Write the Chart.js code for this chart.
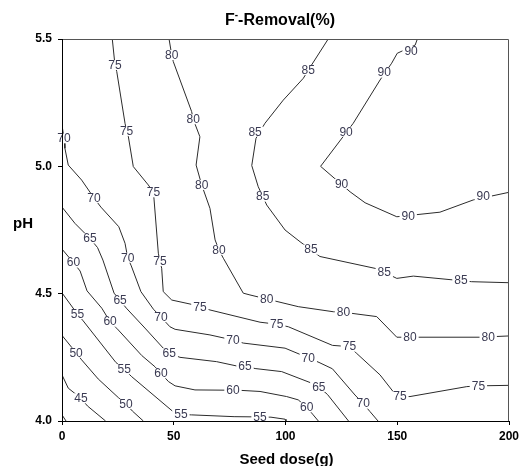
<!DOCTYPE html>
<html>
<head>
<meta charset="utf-8">
<script src="https://cdn.jsdelivr.net/npm/chart.js@4.4.0/dist/chart.umd.min.js"></script>
<style>
    html, body { margin: 0; padding: 0; background: #fff; }
    #wrap { width: 519px; height: 466px; }
</style>
</head>
<body>
<div id="wrap"><canvas id="contourChart1"></canvas></div>
<script>
// contour levels (F- removal %), each line read as [seed dose g, pH]
var levels = [40, 45, 50, 55, 60, 65, 70, 75, 80, 85, 90];
var xTicks = [0, 50, 100, 150, 200];
var yTicks = [4.0, 4.5, 5.0, 5.5];

var c40 = [[0, 4.024], [1.8, 4.0]];
var c45 = [[0, 4.181], [2.8, 4.129], [8.5, 4.089], [11.4, 4.059], [19.5, 4.0]];
var c50 = [[0, 4.336], [6.3, 4.268], [8.8, 4.24], [16.2, 4.165], [25.2, 4.092], [28.6, 4.067], [31.5, 4.039], [36.4, 4.0]];
var c55 = [[0, 4.503], [6.9, 4.42], [9.5, 4.393], [24.1, 4.23], [27.8, 4.203], [31.2, 4.174], [49.4, 4.039], [53.2, 4.025], [58, 4.024], [77, 4.017], [88.6, 4.016], [93.5, 4.015], [99.8, 4.007], [100.2, 4.0]];
var c60 = [[0, 4.675], [5.1, 4.622], [8.1, 4.589], [11.2, 4.511], [17.8, 4.443], [21.5, 4.39], [24.5, 4.364], [35.7, 4.257], [41.6, 4.213], [44.3, 4.187], [47.6, 4.155], [50.6, 4.138], [59.5, 4.122], [73.7, 4.121], [76.5, 4.122], [88.6, 4.116], [100.5, 4.096], [105.7, 4.083], [109.5, 4.054], [112.4, 4.024], [114.7, 4.0]];
var c65 = [[0, 4.84], [5.8, 4.776], [12.5, 4.717], [15.9, 4.681], [18.3, 4.632], [23.3, 4.502], [26, 4.473], [28.8, 4.443], [37.1, 4.365], [45.3, 4.286], [48, 4.266], [52.8, 4.25], [69.2, 4.233], [78.2, 4.216], [81.9, 4.216], [86.4, 4.206], [98.3, 4.194], [111, 4.151], [114.9, 4.134], [118.8, 4.104], [128.2, 4.0]];
var c70 = [[0, 5.162], [0.9, 5.11], [1.3, 5.071], [2.8, 5.005], [8.8, 4.946], [14.3, 4.876], [17.4, 4.84], [25.4, 4.763], [28.2, 4.698], [29.4, 4.641], [31, 4.609], [35.3, 4.508], [40.9, 4.439], [44.3, 4.408], [48.3, 4.37], [50.6, 4.36], [66.2, 4.338], [76.5, 4.318], [81.1, 4.306], [99.8, 4.286], [110.2, 4.248], [115, 4.23], [121, 4.205], [131.1, 4.102], [134.8, 4.068], [137.8, 4.037], [141.4, 4.0]];
var c75 = [[22.5, 5.5], [23.7, 5.398], [24.5, 5.372], [28.2, 5.169], [28.9, 5.139], [29.7, 5.116], [31.9, 4.999], [38.6, 4.927], [40.9, 4.898], [41.2, 4.868], [43.1, 4.659], [43.8, 4.628], [44.6, 4.6], [45.3, 4.508], [49.1, 4.475], [58, 4.458], [61.7, 4.448], [66.2, 4.436], [88.6, 4.388], [96.1, 4.38], [101.3, 4.37], [121, 4.297], [128.6, 4.292], [131.9, 4.265], [142.3, 4.181], [148.2, 4.115], [151.2, 4.096], [155.7, 4.096], [181.1, 4.135], [186.3, 4.138], [200, 4.14]];
var c80 = [[47.9, 5.5], [49.1, 5.437], [49.8, 5.411], [58, 5.215], [58.7, 5.185], [61.7, 5.116], [60, 5.005], [62.5, 4.927], [66.2, 4.835], [68.5, 4.711], [70.2, 4.672], [72.2, 4.639], [81.1, 4.502], [84.1, 4.495], [91.6, 4.479], [105.7, 4.449], [121.4, 4.429], [125.9, 4.427], [140.8, 4.41], [149.8, 4.329], [155.7, 4.329], [187, 4.329], [200, 4.334]];
var c85 = [[119.1, 5.5], [110.2, 5.378], [108, 5.346], [99, 5.26], [90.8, 5.169], [86.8, 5.11], [84.9, 5.003], [87.8, 4.92], [91.6, 4.848], [99.8, 4.75], [106.5, 4.704], [115.4, 4.646], [140.8, 4.598], [149.8, 4.56], [157.2, 4.569], [183.3, 4.547], [200, 4.543]];
var c90 = [[159, 5.5], [158, 5.476], [150, 5.444], [147.5, 5.405], [142.3, 5.339], [130.3, 5.169], [115.7, 5.0], [128.9, 4.9], [135.6, 4.857], [149.8, 4.802], [169.1, 4.82], [184, 4.868], [200, 4.898]];

// where the level numbers sit on each line
var lab40 = [];
var lab45 = [[8.5, 4.089]];
var lab50 = [[6.3, 4.268], [28.6, 4.067]];
var lab55 = [[6.9, 4.42], [27.8, 4.203], [53.2, 4.025], [88.6, 4.016]];
var lab60 = [[5.1, 4.622], [21.5, 4.39], [44.3, 4.187], [76.5, 4.122], [109.5, 4.054]];
var lab65 = [[12.5, 4.717], [26, 4.473], [48, 4.266], [81.9, 4.216], [114.9, 4.134]];
var lab70 = [[0.9, 5.11], [14.3, 4.876], [29.4, 4.641], [44.3, 4.408], [76.5, 4.318], [110.2, 4.248], [134.8, 4.068]];
var lab75 = [[23.7, 5.398], [28.9, 5.139], [40.9, 4.898], [43.8, 4.628], [61.7, 4.448], [96.1, 4.38], [128.6, 4.292], [151.2, 4.096], [186.3, 4.138]];
var lab80 = [[49.1, 5.437], [58.7, 5.185], [62.5, 4.927], [70.2, 4.672], [91.6, 4.479], [125.9, 4.427], [155.7, 4.329], [190.7, 4.329]];
var lab85 = [[110.2, 5.378], [86.4, 5.136], [89.8, 4.881], [111.4, 4.673], [144.2, 4.584], [178.5, 4.551]];
var lab90 = [[156.2, 5.453], [144.2, 5.368], [127.1, 5.136], [125.1, 4.931], [154.9, 4.805], [188.5, 4.881]];

var lines = [c40, c45, c50, c55, c60, c65, c70, c75, c80, c85, c90];
var labelPos = [lab40, lab45, lab50, lab55, lab60, lab65, lab70, lab75, lab80, lab85, lab90];

function toPoints(arr) {
    return arr.map(function (p) {
        return { x: p[0], y: p[1] };
    });
}

var datasets = lines.map(function (line, i) {
    return {
        label: String(levels[i]),
        data: toPoints(line),
        showLine: true,
        borderColor: "#2b2b2b",
        borderWidth: 1,
        pointRadius: 0,
        pointHoverRadius: 0,
        tension: 0,
    };
});

var contourLabels = {
    id: "contourLabels",
    afterDatasetsDraw: function (chart) {
        var ctx = chart.ctx;
        var xs = chart.scales.x;
        var ys = chart.scales.y;
        var area = chart.chartArea;
        ctx.save();
        ctx.font = "12px 'Liberation Sans', Arial, sans-serif";
        ctx.textAlign = "center";
        ctx.textBaseline = "middle";
        labelPos.forEach(function (list, i) {
            var txt = String(levels[i]);
            var w = ctx.measureText(txt).width;
            list.forEach(function (p) {
                var px = xs.getPixelForValue(p[0]);
                var py = ys.getPixelForValue(p[1]);
                ctx.fillStyle = "#ffffff";
                ctx.fillRect(px - w / 2 - 2, py - 5, w + 4, 10);
                ctx.fillStyle = "#3a3a52";
                ctx.fillText(txt, px, py + 0.5);
            });
        });

        // frame: dark left/bottom axes, grey top/right
        ctx.lineWidth = 1;
        ctx.strokeStyle = "#555555";
        ctx.beginPath();
        ctx.moveTo(area.left, area.top + 0.5);
        ctx.lineTo(area.right - 0.5, area.top + 0.5);
        ctx.lineTo(area.right - 0.5, area.bottom);
        ctx.stroke();
        ctx.strokeStyle = "#000000";
        ctx.beginPath();
        ctx.moveTo(area.left + 0.5, area.top);
        ctx.lineTo(area.left + 0.5, area.bottom + 0.5);
        ctx.lineTo(area.right, area.bottom + 0.5);
        ctx.stroke();
        ctx.restore();
    },
    afterDraw: function (chart) {
        var ctx = chart.ctx;
        var area = chart.chartArea;
        var cx = (area.left + area.right) / 2;
        ctx.save();
        ctx.fillStyle = "#000000";
        ctx.textBaseline = "alphabetic";
        // title with superscript minus on F
        var t1 = "F";
        var t2 = "-Removal(%)";
        ctx.font = "bold 16px 'Liberation Sans', Arial, sans-serif";
        var w1 = ctx.measureText(t1).width;
        var w3 = ctx.measureText(t2).width;
        ctx.font = "bold 10px 'Liberation Sans', Arial, sans-serif";
        var w2 = ctx.measureText("-").width;
        var start = 280 - (w1 + w2 + w3) / 2;
        ctx.textAlign = "left";
        ctx.font = "bold 16px 'Liberation Sans', Arial, sans-serif";
        ctx.fillText(t1, start, 25);
        ctx.font = "bold 10px 'Liberation Sans', Arial, sans-serif";
        ctx.fillText("-", start + w1, 18);
        ctx.font = "bold 16px 'Liberation Sans', Arial, sans-serif";
        ctx.fillText(t2, start + w1 + w2, 25);

        ctx.textAlign = "center";
        ctx.font = "bold 15px 'Liberation Sans', Arial, sans-serif";
        ctx.fillText("Seed dose(g)", cx + 1, 464);
        ctx.fillText("pH", 23, 228);
        ctx.restore();
    },
};

var ctx1 = document.getElementById("contourChart1").getContext("2d");
var contourChart1 = new Chart(ctx1, {
    type: "scatter",
    data: { datasets: datasets },
    options: {
        responsive: true,
        maintainAspectRatio: false,
        animation: false,
        events: [],
        layout: { padding: { top: 39, right: 10, left: 0, bottom: 0 } },
        plugins: {
            legend: { display: false },
            tooltip: { enabled: false },
            title: { display: false },
        },
        scales: {
            x: {
                type: "linear",
                min: 0,
                max: 200,
                afterBuildTicks: function (scale) {
                    scale.ticks = xTicks.map(function (v) { return { value: v }; });
                },
                afterFit: function (scale) {
                    scale.height = 45;
                    scale.paddingLeft = 0;
                    scale.paddingRight = 0;
                },
                grid: { drawOnChartArea: false, drawTicks: true, tickLength: 4, color: "#000" },
                border: { display: false },
                ticks: {
                    padding: 4,
                    color: "#000",
                    font: { family: "'Liberation Sans', Arial, sans-serif", size: 12, weight: "bold" },
                },
            },
            y: {
                type: "linear",
                min: 4.0,
                max: 5.5,
                afterBuildTicks: function (scale) {
                    scale.ticks = yTicks.map(function (v) { return { value: v }; });
                },
                afterFit: function (scale) {
                    scale.width = 62;
                    scale.paddingTop = 0;
                    scale.paddingBottom = 0;
                },
                grid: { drawOnChartArea: false, drawTicks: true, tickLength: 4, color: "#000" },
                border: { display: false },
                ticks: {
                    padding: 6,
                    color: "#000",
                    font: { family: "'Liberation Sans', Arial, sans-serif", size: 12, weight: "bold" },
                    callback: function (v) { return Number(v).toFixed(1); },
                },
            },
        },
    },
    plugins: [contourLabels],
});
</script>
</body>
</html>
